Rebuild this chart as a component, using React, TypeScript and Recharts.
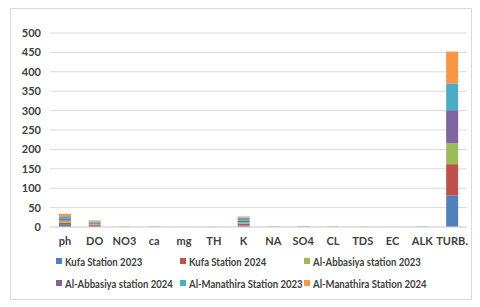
import React from 'react';
import { BarChart, Bar, XAxis, YAxis, CartesianGrid } from 'recharts';

const categories = ['ph', 'DO', 'NO3', 'ca', 'mg', 'TH', 'K', 'NA', 'SO4', 'CL', 'TDS', 'EC', 'ALK', 'TURB.'];

const kufa2023 = [5.6, 3.0, 0.1, 0.2, 0.1, 0.1, 4.0, 0.2, 0.5, 0.2, 0.1, 0.1, 0.2, 81];
const kufa2024 = [5.5, 2.8, 0.1, 0.2, 0.1, 0.1, 4.0, 0.2, 0.4, 0.2, 0.1, 0.1, 0.2, 81];
const abbasiya2023 = [5.4, 2.6, 0.1, 0.2, 0.1, 0.1, 4.0, 0.2, 0.4, 0.2, 0.1, 0.1, 0.2, 54];
const abbasiya2024 = [5.8, 2.9, 0.1, 0.2, 0.1, 0.1, 4.0, 0.2, 0.6, 0.2, 0.1, 0.1, 0.2, 85];
const manathira2023 = [5.6, 2.7, 0.1, 0.2, 0.1, 0.1, 8.0, 0.2, 0.4, 0.2, 0.1, 0.1, 0.2, 69];
const manathira2024 = [6.1, 3.0, 0.2, 0.4, 0.2, 0.2, 3.0, 0.4, 0.3, 0.4, 0.1, 0.1, 0.4, 82];

const yTicks = [0, 50, 100, 150, 200, 250, 300, 350, 400, 450, 500];

const series = [
  { key: 'k23', name: 'Kufa Station 2023', color: '#4F81BD', values: kufa2023 },
  { key: 'k24', name: 'Kufa Station 2024', color: '#C0504D', values: kufa2024 },
  { key: 'a23', name: 'Al-Abbasiya station 2023', color: '#9BBB59', values: abbasiya2023 },
  { key: 'a24', name: 'Al-Abbasiya station 2024', color: '#8064A2', values: abbasiya2024 },
  { key: 'm23', name: 'Al-Manathira Station 2023', color: '#4BACC6', values: manathira2023 },
  { key: 'm24', name: 'Al-Manathira Station 2024', color: '#F79646', values: manathira2024 },
];

const data = categories.map((name, i) => {
  const row: Record<string, string | number> = { name };
  series.forEach((s) => {
    row[s.key] = s.values[i];
  });
  return row;
});

const font = 'Lato, "Open Sans", sans-serif';

const App = () => {
  return (
    <div style={{ position: 'relative', width: 480, height: 307, margin: '-8px 0 0 -8px', background: '#fff', fontFamily: font }}>
      <div
        style={{
          position: 'absolute',
          left: 10,
          top: 8,
          width: 462,
          height: 292,
          border: '1px solid #d9d9d9',
          boxSizing: 'border-box',
        }}
      />
      <div style={{ position: 'absolute', left: 0, top: 0 }}>
        <BarChart
          width={480}
          height={307}
          data={data}
          margin={{ top: 33, right: 13, left: 10, bottom: 60 }}
          barCategoryGap="30%"
        >
          <CartesianGrid vertical={false} stroke="#d9d9d9" />
          <XAxis
            dataKey="name"
            interval={0}
            tickLine={false}
            tickSize={0}
            tickMargin={10}
            axisLine={{ stroke: '#d9d9d9' }}
            height={20}
            tick={{ fill: '#404040', fontSize: 11, fontWeight: 700, fontFamily: font }}
          />
          <YAxis
            domain={[0, 500]}
            ticks={yTicks}
            width={40}
            axisLine={false}
            tickLine={false}
            tickSize={0}
            tickMargin={9}
            interval={0}
            tick={{ fill: '#404040', fontSize: 11, fontWeight: 700, fontFamily: font }}
          />
          {series.map((s) => (
            <Bar key={s.key} dataKey={s.key} name={s.name} stackId="a" fill={s.color} isAnimationActive={false} />
          ))}
        </BarChart>
      </div>
      <div
        style={{
          position: 'absolute',
          left: 56,
          top: 253,
          width: 390,
          display: 'grid',
          gridTemplateColumns: '124px 124px 140px',
          rowGap: 6,
          fontSize: 11,
          fontWeight: 700,
          color: '#404040',
        }}
      >
        {series.map((s) => (
          <div key={s.key} style={{ display: 'flex', alignItems: 'center', height: 16, whiteSpace: 'nowrap' }}>
            <span
              style={{ width: 6, height: 6, flexShrink: 0, background: s.color, marginRight: 3, display: 'inline-block' }}
            />
            <span style={{ display: 'inline-block', transform: 'scaleX(0.87)', transformOrigin: 'left center' }}>
              {s.name}
            </span>
          </div>
        ))}
      </div>
    </div>
  );
};

export default App;
